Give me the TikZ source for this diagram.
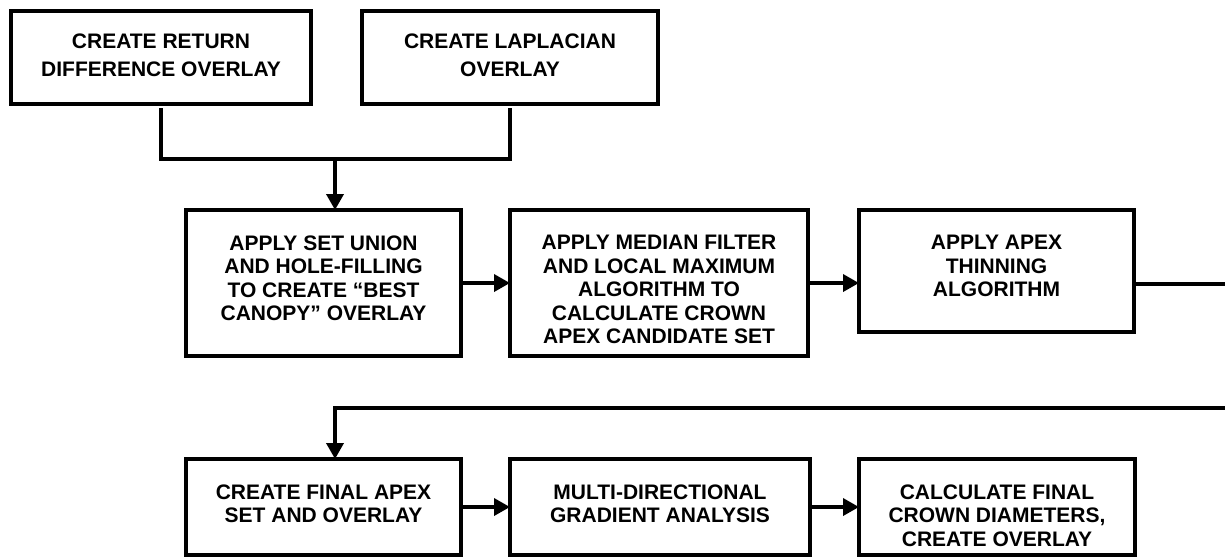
\documentclass[tikz,border=0pt]{standalone}
\usepackage{fontspec}
\setmainfont{Liberation Sans}
\usetikzlibrary{arrows.meta}
\begin{document}
\begin{tikzpicture}[x=1pt,y=-1pt,
  stepbox/.style={draw=black, line width=4pt, inner sep=0pt, outer sep=0pt, rectangle, line join=miter},
  txt/.style={inner sep=0pt, outer sep=0pt, align=center, anchor=north, font=\bfseries\fontsize{21}{23.5}\selectfont},
  txttop/.style={txt, font=\bfseries\fontsize{21}{27.5}\selectfont},
  conn/.style={draw=black, line width=3.6pt, line join=miter},
  arr/.style={conn, -{Triangle[length=16pt,width=17pt]}}]
\useasboundingbox (0,0) rectangle (1225,558);
\fill[white] (0,0) rectangle (1225,558);
% boxes
\node[stepbox, minimum width=300pt, minimum height=93pt] (b1) at (161,57.5) {};
\node[stepbox, minimum width=296pt, minimum height=93pt] (b2) at (510,57.5) {};
\node[stepbox, minimum width=275pt, minimum height=146pt] (b3) at (323.5,283) {};
\node[stepbox, minimum width=298pt, minimum height=146pt] (b4) at (659,283) {};
\node[stepbox, minimum width=275pt, minimum height=122pt] (b5) at (996.5,271) {};
\node[stepbox, minimum width=275pt, minimum height=96pt] (b6) at (323.5,507) {};
\node[stepbox, minimum width=300pt, minimum height=96pt] (b7) at (660,507) {};
\node[stepbox, minimum width=276pt, minimum height=96pt] (b8) at (997,507) {};
% texts
\node[txttop] (t1) at (161,34) {CREATE RETURN\\DIFFERENCE OVERLAY};
\node[txttop] (t2) at (510,34) {CREATE LAPLACIAN\\OVERLAY};
\node[txt] (t3) at (323.5,235.5) {APPLY SET UNION\\AND HOLE-FILLING\\TO CREATE “BEST\\CANOPY” OVERLAY};
\node[txt] (t4) at (659,235.5) {APPLY MEDIAN FILTER\\AND LOCAL MAXIMUM\\ALGORITHM TO\\CALCULATE CROWN\\APEX CANDIDATE SET};
\node[txt] (t5) at (996.5,235.5) {APPLY APEX\\THINNING\\ALGORITHM};
\node[txt] (t6) at (323.5,484.5) {CREATE FINAL APEX\\SET AND OVERLAY};
\node[txt] (t7) at (660,484.5) {MULTI-DIRECTIONAL\\GRADIENT ANALYSIS};
\node[txt] (t8) at (997,484.5) {CALCULATE FINAL\\CROWN DIAMETERS,\\CREATE OVERLAY};
% connectors
\coordinate (j) at (335,159);
\coordinate (e1) at (1225,284);
\coordinate (e2) at (1225,408);
\coordinate (k) at (335,408);
\draw[conn, shorten <=4pt, shorten >=4pt] (b1.south) -- (b1.south |- j) -- (b2.south |- j) -- (b2.south);
\draw[arr] (j) -- (j |- b3.north);
\draw[arr] (b3.east) -- (b4.west);
\draw[arr] (b4.east) -- (b4.east -| b5.west);
\draw[conn] (b5.east |- e1) -- (e1);
\draw[arr] (e2) -- (k) -- (k |- b6.north);
\draw[arr] (b6.east) -- (b7.west);
\draw[arr] (b7.east) -- (b8.west);
\end{tikzpicture}
\end{document}
